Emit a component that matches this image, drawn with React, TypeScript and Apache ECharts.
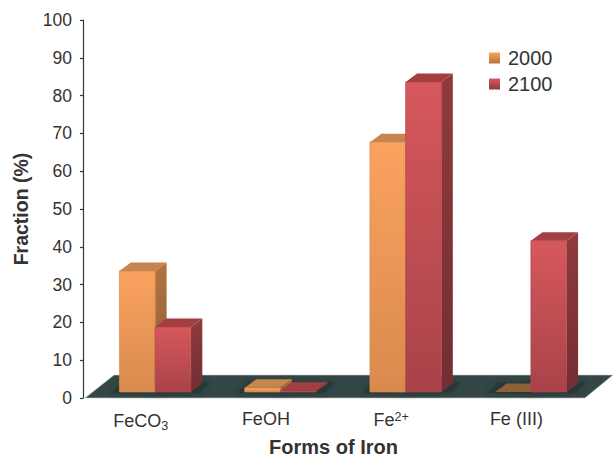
import React, { useEffect, useRef } from "react";
import * as echarts from "echarts";

const categories = ["FeCO3", "FeOH", "Fe2+", "Fe (III)"];
const categoryLabels = ["{t|FeCO}{sub|3}", "{t|FeOH}", "{t|Fe}{sup|2+}", "{t|Fe (III)}"];
const values2000 = [32, 1.1, 66.1, 0];
const values2100 = [17.2, 0.3, 82, 40];
const yTicks = { min: 0, max: 100, interval: 10 };

const FONT = '"Liberation Sans", Arial, sans-serif';
const BASE_LIFT = 6;
const DEPTH_X = 11.5;
const DEPTH_Y = 8.5;
const BAR_RATIO = 0.285;
const PAIR_SHIFT = 9.5;

const vGrad = (a: string, b: string) =>
  new echarts.graphic.LinearGradient(0, 0, 0, 1, [
    { offset: 0, color: a },
    { offset: 1, color: b },
  ]);

const palettes = [
  {
    front: ["#fba25f", "#d88a4e"],
    side: ["#b0743f", "#8d5c35"],
    top: "#c5854c",
    flat: "#8f5f3a",
    edge: "#d98b4c",
    legend: ["#f5a55e", "#b9703a"],
  },
  {
    front: ["#d6585c", "#a84349"],
    side: ["#903a3f", "#722e33"],
    top: "#a33f43",
    flat: "#a33f43",
    edge: "#b8474c",
    legend: ["#d6585c", "#8f3a3f"],
  },
];

function barGeom(params: any, api: any, slot: number) {
  const band = api.size([1, 0])[0];
  const w = band * BAR_RATIO;
  const c = api.coord([api.value(0), api.value(1)]);
  const x0 = c[0] + PAIR_SHIFT + (slot === 0 ? -w : 0);
  const zero = api.coord([api.value(0), 0])[1];
  return { x0, x1: x0 + w, yTop: c[1] - BASE_LIFT, yBase: zero - BASE_LIFT };
}

const poly = (points: number[][], fill: any, extra: any = {}) => ({
  type: "polygon",
  shape: { points },
  style: { fill, ...extra },
  silent: true,
});

const barRenderer = (slot: number) => (params: any, api: any) => {
  const { x0, x1, yTop, yBase } = barGeom(params, api, slot);
  const p = palettes[slot];
  const children: any[] = [];
  const hasBody = yBase - yTop > 0.5;
  if (hasBody) {
    children.push(
      poly(
        [[x1, yTop], [x1 + DEPTH_X, yTop - DEPTH_Y], [x1 + DEPTH_X, yBase - DEPTH_Y], [x1, yBase]],
        vGrad(p.side[0], p.side[1])
      ),
      poly([[x0, yTop], [x1, yTop], [x1, yBase], [x0, yBase]], vGrad(p.front[0], p.front[1]), {
        stroke: p.edge,
        lineWidth: 0.7,
      })
    );
  }
  children.push(
    poly(
      [[x0, yTop], [x1, yTop], [x1 + DEPTH_X, yTop - DEPTH_Y], [x0 + DEPTH_X, yTop - DEPTH_Y]],
      hasBody ? p.top : p.flat
    )
  );
  return { type: "group", children };
};

const shadowRenderer = (slot: number) => (params: any, api: any) => {
  const { x0, x1, yBase } = barGeom(params, api, slot);
  const pad = 8;
  return poly(
    [
      [x0 - pad, yBase + 1],
      [x1 + pad, yBase + 1],
      [x1 + DEPTH_X + pad, yBase - DEPTH_Y - 1],
      [x0 + DEPTH_X - pad, yBase - DEPTH_Y - 1],
    ],
    "#283838",
    { shadowBlur: 6, shadowColor: "#283838" }
  );
};

const floorRenderer = (params: any, api: any) => {
  const r = params.coordSys;
  const yFront = api.coord([0, 0])[1];
  const yBack = yFront - 23;
  const right = r.x + r.width;
  return poly(
    [[r.x + 2, yFront], [right + 1, yFront], [right + 29, yBack], [r.x + 31, yBack]],
    "#344646",
    { stroke: "#c9cfcf", lineWidth: 0.6 }
  );
};

const toPoints = (vals: number[]) => vals.map((v, i) => [i, v]);

export default function App() {
  const ref = useRef<HTMLDivElement>(null);
  useEffect(() => {
    const chart = echarts.init(ref.current!, undefined, { renderer: "svg" });
    chart.setOption({
      animation: false,
      backgroundColor: "#ffffff",
      textStyle: { fontFamily: FONT },
      grid: { left: 83, top: 20, width: 501, height: 378, containLabel: false, outerBoundsMode: "none" },
      legend: {
        left: 484,
        top: 43,
        orient: "vertical",
        itemWidth: 11,
        itemHeight: 11,
        itemGap: 6,
        textStyle: { fontSize: 20, color: "#333333", fontFamily: FONT, padding: [0, 0, 0, 3] },
        data: [
          { name: "2000", icon: "rect", itemStyle: { color: vGrad(palettes[0].legend[0], palettes[0].legend[1]) } },
          { name: "2100", icon: "rect", itemStyle: { color: vGrad(palettes[1].legend[0], palettes[1].legend[1]) } },
        ],
      },
      xAxis: {
        type: "category",
        data: categories,
        name: "Forms of Iron",
        nameLocation: "middle",
        nameGap: 39,
        nameTextStyle: { fontSize: 20, fontWeight: "bold", color: "#333333", fontFamily: FONT },
        axisLine: { show: false },
        axisTick: { show: false },
        axisLabel: {
          margin: 12,
          padding: [0, 10, 0, 0],
          formatter: (_: string, i: number) => categoryLabels[i],
          rich: {
            t: { fontSize: 18, color: "#333333", fontFamily: FONT },
            sub: { fontSize: 12.5, color: "#333333", fontFamily: FONT, verticalAlign: "bottom", padding: [9, 0, 0, 0] },
            sup: { fontSize: 12.5, color: "#333333", fontFamily: FONT, verticalAlign: "top", padding: [0, 0, 7, 0] },
          },
        },
      },
      yAxis: {
        type: "value",
        min: yTicks.min,
        max: yTicks.max,
        interval: yTicks.interval,
        name: "Fraction (%)",
        nameLocation: "middle",
        nameGap: 52,
        nameTextStyle: { fontSize: 19.5, fontWeight: "bold", color: "#333333", fontFamily: FONT },
        axisLine: { show: true, lineStyle: { color: "#2c3b3b", width: 1.2 } },
        axisTick: { show: true, length: 3, lineStyle: { color: "#2c3b3b", width: 1.2 } },
        axisLabel: { fontSize: 17.5, color: "#333333", margin: 11, fontFamily: FONT },
        splitLine: { show: false },
      },
      series: [
        { type: "custom", name: "floor", silent: true, z: 1, renderItem: floorRenderer, data: [[0, 0]], encode: { x: 0, y: 1 } },
        { type: "custom", name: "shadow 2000", silent: true, z: 2, renderItem: shadowRenderer(0), data: toPoints(values2000), encode: { x: 0, y: 1 } },
        { type: "custom", name: "shadow 2100", silent: true, z: 2, renderItem: shadowRenderer(1), data: toPoints(values2100), encode: { x: 0, y: 1 } },
        { type: "custom", name: "2000", z: 3, renderItem: barRenderer(0), data: toPoints(values2000), encode: { x: 0, y: 1 } },
        { type: "custom", name: "2100", z: 4, renderItem: barRenderer(1), data: toPoints(values2100), encode: { x: 0, y: 1 } },
      ],
    });
    return () => chart.dispose();
  }, []);
  return <div ref={ref} style={{ position: "absolute", left: 0, top: 0, width: 613, height: 457 }} />;
}
